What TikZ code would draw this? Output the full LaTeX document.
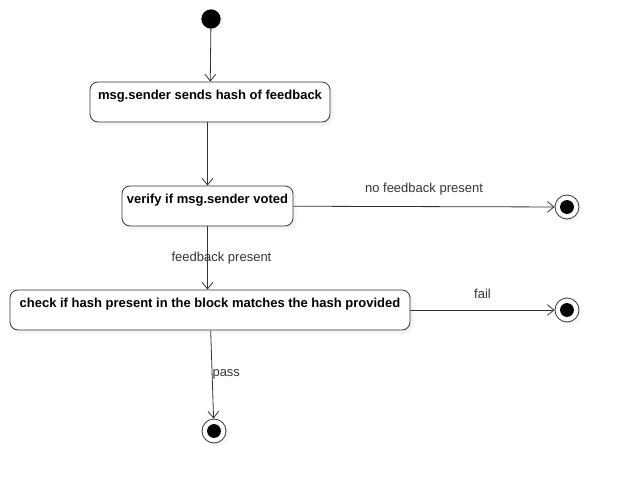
\documentclass[tikz,border=0pt]{standalone}
\usepackage{fontspec}
\setmainfont{Liberation Sans}
\usetikzlibrary{arrows.meta,shadows}

\begin{document}
\begin{tikzpicture}[x=0.75pt,y=-0.75pt,
	flow/.style={draw=black!80, line width=0.6pt, -{Straight Barb[length=5pt,width=8pt]}},
	act/.style={draw=black!80, line width=0.6pt, rounded corners=6pt, fill=white, inner sep=0pt,
		font=\bfseries\fontsize{9.75}{11}\selectfont, text height=12.75pt, text depth=17.25pt,
		drop shadow={shadow xshift=2.5pt, shadow yshift=-2.5pt, fill=black!8}},
	final/.style={circle, draw=black!80, line width=0.6pt, fill=white, minimum size=18pt, inner sep=0pt,
		drop shadow={shadow xshift=2pt, shadow yshift=-2pt, fill=black!8},
		path picture={\fill[black] (path picture bounding box.center) circle (5.2pt);}},
	lbl/.style={font=\fontsize{9.75}{11}\selectfont, text=black!80},
	]
	\useasboundingbox (0,0) rectangle (619,483);

	%start
	\node[circle, fill=black, minimum size=14.5pt, inner sep=0pt,
		drop shadow={shadow xshift=2pt, shadow yshift=-2pt, fill=black!8}] (start) at (211,19) {};

	%activities
	\node[act, minimum width=180pt] (send) at (210,102) {msg.sender sends hash of feedback};
	\node[act, minimum width=128.25pt] (verify) at (207.5,206) {verify if msg.sender voted};
	\node[act, minimum width=300pt] (check) at (210,310) {check if hash present in the block matches the hash provided};

	%final states
	\node[final] (noFb) at (567,207) {};
	\node[final] (fail) at (567,310) {};
	\node[final] (pass) at (214,431) {};

	%transitions
	\draw[flow] (start) -- (send);
	\draw[flow] (verify.north |- send.south) -- (verify.north);
	\draw[flow] (verify) -- (noFb) node[lbl, midway, yshift=12.75pt] {no feedback present};
	\draw[flow] (verify.south) -- (check.north -| verify.south) node[lbl, midway, xshift=10.5pt] {feedback present};
	\draw[flow] (check) -- (fail) node[lbl, midway, yshift=12pt] {fail};
	\draw[flow] (check) -- (pass) node[lbl, midway, anchor=west, inner xsep=0pt] {pass};

\end{tikzpicture}
\end{document}
